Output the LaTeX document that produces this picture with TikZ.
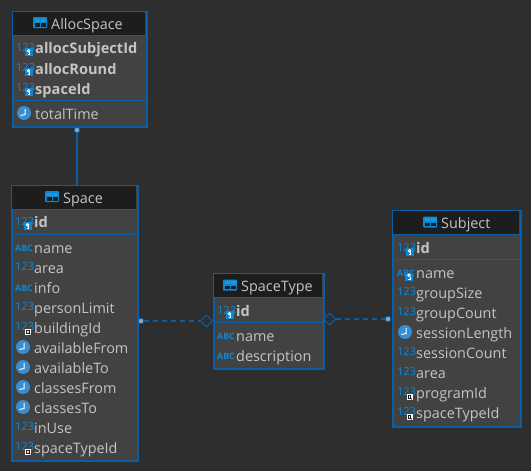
\documentclass[tikz,border=0pt]{standalone}
\usepackage{fontspec}
\setmainfont{Open Sans}
\usetikzlibrary{shapes.geometric}
\definecolor{bgc}{HTML}{2E2E2E}
\definecolor{headc}{HTML}{1D1D1D}
\definecolor{bodyc}{HTML}{424242}
\definecolor{linec}{HTML}{0A5EA6}
\definecolor{iconc}{HTML}{0F86D0}
\definecolor{clockc}{HTML}{3A8DCE}
\definecolor{txtc}{HTML}{C4C4C4}
\definecolor{dotc}{HTML}{8FA6BA}
\tikzset{
  tablebox/.style={draw=linec,line width=2pt,fill=bodyc,inner sep=0pt,anchor=north west},
  title/.style={text=txtc,font=\fontsize{14.4}{16}\selectfont,inner sep=0pt,anchor=base west,yshift=-5pt},
  colname/.style={text=txtc,font=\fontsize{14.4}{16}\selectfont,inner sep=0pt,anchor=base west,yshift=-5pt},
  keyname/.style={text=txtc,font=\fontsize{14.6}{16}\selectfont\bfseries,inner sep=0pt,anchor=base west,yshift=-5.5pt},
  num/.style={text=iconc,font=\fontsize{11}{12}\selectfont,inner sep=0pt,anchor=base west},
  abc/.style={text=iconc,font=\fontsize{8.8}{10}\selectfont\bfseries,inner sep=0pt,anchor=base west,yshift=-4pt},
  divider/.style={draw=linec,line width=0.9pt},
  relation/.style={draw=linec,line width=1.4pt},
  reldash/.style={relation,dash pattern=on 5pt off 4pt},
  enddot/.style={circle,fill=dotc,draw=linec,line width=0.8pt,minimum size=5.5pt,inner sep=0pt},
  enddiamond/.style={diamond,draw=linec,line width=1pt,fill=bgc,minimum width=12pt,minimum height=12pt,inner sep=0pt},
}
\newcommand{\tblicon}[2]{%
  \fill[iconc,rounded corners=1pt] (#1-7,#2-5.5) rectangle (#1+7,#2+5.5);
  \fill[headc] (#1-5.5,#2+0.6) rectangle (#1-0.5,#2+4);
  \fill[headc] (#1+0.5,#2+0.6) rectangle (#1+5.5,#2+4);
  \fill[cyan!60!iconc] (#1-5.5,#2-3.8) rectangle (#1-0.5,#2-0.8);
  \fill[cyan!60!iconc] (#1+0.5,#2-3.8) rectangle (#1+5.5,#2-0.8);
}
\newcommand{\keybadge}[2]{%
  \fill[iconc] (#1-4,#2-4) rectangle (#1+4,#2+4);
  \draw[white,line width=0.9pt] (#1,#2-1.3) circle (1.3);
  \draw[white,line width=0.9pt] (#1+1,#2+0.2) -- (#1+1,#2+2.6) -- (#1-1,#2+2.6);
}
\newcommand{\fkbadge}[2]{%
  \fill[white] (#1-3,#2-3) rectangle (#1+3,#2+3);
  \draw[headc,line width=0.8pt] (#1-1.5,#2-1.5) rectangle (#1+1,#2+1);
  \draw[headc,line width=0.8pt] (#1+0.5,#2+0.5) -- (#1+2.4,#2+2.4);
}
\newcommand{\clockicon}[2]{%
  \fill[clockc] (#1,#2) circle (7);
  \draw[white,line width=1pt] (#1+1,#2-3.8) -- (#1+1,#2+1.6) -- (#1-3.6,#2+2.4);
}
\newcommand{\kicon}[2]{\node[num,yshift=-3pt] at (#1-1,#2) {123}; \keybadge{#1+11.5}{#2+4}}
\newcommand{\nicon}[2]{\node[num,yshift=-2.5pt] at (#1-1,#2) {123};}
\newcommand{\aicon}[2]{\node[abc] at (#1-1,#2) {ABC};}
\begin{document}
\begin{tikzpicture}[x=1pt,y=-1pt]
\useasboundingbox (0,0) rectangle (531,471);
\fill[bgc] (0,0) rectangle (531,471);

% AllocSpace
\node[tablebox,minimum width=134pt,minimum height=115pt] (allocspace) at (12,11) {};
\fill[headc] (13,12) rectangle (145,35);
\draw[divider] (12,35) -- (146,35);
\draw[divider] (12,100) -- (146,100);
\tblicon{40}{22.5}
\node[title] (allocspacetitle) at (51,24) {AllocSpace};
\kicon{17}{48}\node[keyname] (a1) at (35,48) {allocSubjectId};
\kicon{17}{68}\node[keyname] (a2) at (35,69) {allocRound};
\kicon{17}{88}\node[keyname] (a3) at (35,89) {spaceId};
\clockicon{24}{113}\node[colname] (a4) at (35,114) {totalTime};

% Space
\node[tablebox,minimum width=126pt,minimum height=275pt] (space) at (11,185) {};
\fill[headc] (12,186) rectangle (136,209);
\draw[divider] (11,209) -- (137,209);
\draw[divider] (11,234) -- (137,234);
\tblicon{52}{196.5}
\node[title] (spacetitle) at (63,198) {Space};
\kicon{16}{222}\node[keyname] (s1) at (34,222) {id};
\aicon{16}{247}\node[colname] (s2) at (34,248) {name};
\nicon{16}{268}\node[colname] (s3) at (34,268) {area};
\aicon{16}{287}\node[colname] (s4) at (34,288) {info};
\nicon{16}{308}\node[colname] (s5) at (34,308) {personLimit};
\nicon{16}{328}\fkbadge{28}{332}\node[colname] (s6) at (34,328) {buildingId};
\clockicon{23}{347}\node[colname] (s7) at (34,348) {availableFrom};
\clockicon{23}{367}\node[colname] (s8) at (34,368) {availableTo};
\clockicon{23}{387}\node[colname] (s9) at (34,388) {classesFrom};
\clockicon{23}{407}\node[colname] (s10) at (34,408) {classesTo};
\nicon{16}{428}\node[colname] (s11) at (34,428) {inUse};
\nicon{16}{448}\fkbadge{28}{452}\node[colname] (s12) at (34,448) {spaceTypeId};

% SpaceType
\node[tablebox,minimum width=110pt,minimum height=95pt] (spacetype) at (213,273) {};
\fill[headc] (214,274) rectangle (322,297);
\draw[divider] (213,297) -- (323,297);
\draw[divider] (213,322) -- (323,322);
\tblicon{230}{285}
\node[title] (spacetypetitle) at (241,286) {SpaceType};
\kicon{218}{311}\node[keyname] (t1) at (236,311) {id};
\aicon{218}{335}\node[colname] (t2) at (236,336) {name};
\aicon{218}{355}\node[colname] (t3) at (236,356) {description};

% Subject
\node[tablebox,minimum width=128pt,minimum height=216pt] (subject) at (392,210) {};
\fill[headc] (393,211) rectangle (519,234);
\draw[divider] (392,234) -- (520,234);
\draw[divider] (392,259) -- (520,259);
\tblicon{430}{222}
\node[title] (subjecttitle) at (441,223) {Subject};
\kicon{398}{248}\node[keyname] (j1) at (416,248) {id};
\aicon{398}{272}\keybadge{409}{276.5}\node[colname] (j2) at (416,273) {name};
\nicon{398}{293}\node[colname] (j3) at (416,293) {groupSize};
\nicon{398}{313}\node[colname] (j4) at (416,313) {groupCount};
\clockicon{405}{332}\node[colname] (j5) at (416,333) {sessionLength};
\nicon{398}{353}\node[colname] (j6) at (416,353) {sessionCount};
\nicon{398}{373}\node[colname] (j7) at (416,373) {area};
\nicon{398}{393}\fkbadge{409.5}{397}\node[colname] (j8) at (416,393) {programId};
\nicon{398}{413}\fkbadge{409.5}{417}\node[colname] (j9) at (416,413) {spaceTypeId};

% Relations
\node[enddot] (dota) at (77,130) {};
\draw[relation] (dota) -- (dota |- space.north);
\node[enddiamond] (dia1) at (206.5,321) {};
\node[enddot] (dots) at (141,321) {};
\draw[reldash] (dots) -- (dia1);
\node[enddiamond] (dia2) at (329.5,319) {};
\node[enddot] (dotj) at (388,319) {};
\draw[reldash] (dia2) -- (dotj);
\end{tikzpicture}
\end{document}
